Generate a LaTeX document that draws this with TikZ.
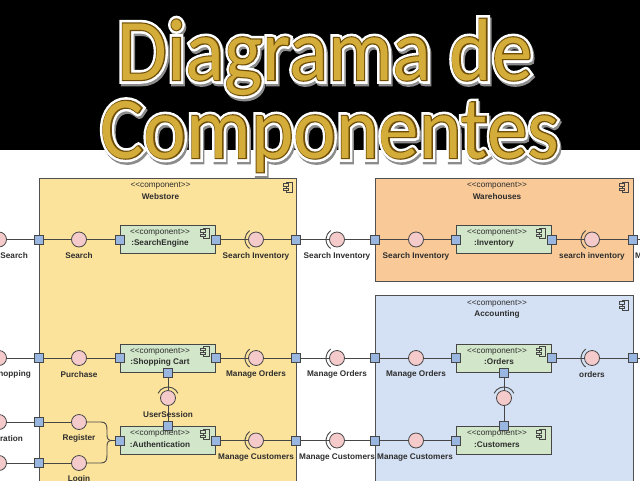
\documentclass[tikz,border=0pt]{standalone}
\usepackage{fontspec}
\setmainfont{Liberation Sans}
\newfontfamily\tfG{Carlito}
\newfontfamily\tfD{Carlito}[FakeBold=2.6]
\newfontfamily\tfW{Carlito}[FakeBold=8.5]
\definecolor{wirec}{RGB}{70,70,70}
\definecolor{boxc}{RGB}{80,80,80}
\definecolor{webc}{RGB}{252,227,156}
\definecolor{warec}{RGB}{249,202,152}
\definecolor{accc}{RGB}{212,224,243}
\definecolor{compc}{RGB}{210,231,202}
\definecolor{ballc}{RGB}{244,202,202}
\definecolor{portc}{RGB}{152,182,224}
\definecolor{txtc}{RGB}{45,45,45}
\definecolor{goldc}{RGB}{212,172,58}
\definecolor{golddk}{RGB}{110,78,8}
\newcommand\stc{<\kern0pt<component>\kern0pt>}
\newcommand\ttltext[2]{\scalebox{0.92}[1]{#1\fontsize{88}{88}\selectfont #2}}
\newcommand\lsock[1]{\draw[sock] ([shift={(125:11)}]#1.center) arc[start angle=125,end angle=235,radius=11];}
\newcommand\tsock[1]{\draw[sock] ([shift={(205:11)}]#1.center) arc[start angle=205,end angle=335,radius=11];}
\begin{document}
\begin{tikzpicture}[x=1pt,y=-1pt,
  wire/.style={draw=wirec,line width=0.9pt},
  sock/.style={draw=wirec,line width=0.9pt},
  port/.style={rectangle,draw=wirec,fill=portc,minimum size=9pt,inner sep=0,line width=0.7pt},
  ball/.style={circle,draw=wirec,fill=ballc,minimum size=15pt,inner sep=0,line width=0.8pt},
  comp/.style={rectangle,draw=wirec,fill=compc,minimum width=95pt,minimum height=28pt,inner sep=0,line width=1pt},
  outer/.style={rectangle,draw=boxc,inner sep=0,line width=0.9pt},
  lbl/.style={font=\fontsize{8.2}{9}\selectfont\bfseries,text=txtc,inner sep=0},
  stereo/.style={font=\fontsize{8.2}{9}\selectfont,text=txtc,inner sep=0},
  ttl/.style={anchor=base,inner sep=0},
  pics/cicon/.style={code={
    \draw[draw=wirec,fill=#1,line width=0.7pt] (-2,-5) rectangle (4,5);
    \draw[draw=wirec,fill=#1,line width=0.7pt] (-4.5,-3.2) rectangle (0,-1);
    \draw[draw=wirec,fill=#1,line width=0.7pt] (-4.5,1) rectangle (0,3.2);
  }}]
\useasboundingbox (0,0) rectangle (640,480);
\clip (0,0) rectangle (640,480);
\fill[black] (0,0) rectangle (640,150);

% outer components
\node[outer,fill=webc,minimum width=257pt,minimum height=320pt] (web) at (167.5,338) {};
\node[outer,fill=warec,minimum width=258pt,minimum height=103pt] (ware) at (504,229.5) {};
\node[outer,fill=accc,minimum width=258pt,minimum height=205pt] (acc) at (504,397.5) {};
\node[stereo] (web-s) at (160.5,186) {\stc};
\node[lbl] (web-n) at (160.5,196.5) {Webstore};
\node[stereo] (ware-s) at (497,186) {\stc};
\node[lbl] (ware-n) at (497,196.5) {Warehouses};
\node[stereo] (acc-s) at (497,303.5) {\stc};
\node[lbl] (acc-n) at (497,314) {Accounting};
\pic at (288,187) {cicon=webc};
\pic at (624,187) {cicon=warec};
\pic at (624,305) {cicon=accc};

% inner components
\node[comp] (se) at (168,239.5) {};
\node[comp] (sc) at (168,358) {};
\node[comp] (au) at (168,440.5) {};
\node[comp] (inv) at (504,239.5) {};
\node[comp] (ord) at (504,358) {};
\node[comp] (cus) at (504,440.5) {};
\node[stereo] (se-s) at (160,233) {\stc};
\node[lbl] (se-n) at (160,243.5) {:SearchEngine};
\node[stereo] (sc-s) at (160,351.5) {\stc};
\node[lbl] (sc-n) at (160,362) {:Shopping Cart};
\node[stereo] (au-s) at (160,434) {\stc};
\node[lbl] (au-n) at (160,444.5) {:Authentication};
\node[stereo] (inv-s) at (497,233) {\stc};
\node[lbl] (inv-n) at (494,243.5) {:Inventory};
\node[stereo] (ord-s) at (497,351.5) {\stc};
\node[lbl] (ord-n) at (499,362) {:Orders};
\node[stereo] (cus-s) at (497,434) {\stc};
\node[lbl] (cus-n) at (497,444.5) {:Customers};
\foreach \c/\y in {205/233,205/351.5,205/434} \pic at (\c,\y) {cicon=compc};
\foreach \c/\y in {541/233,541/351.5,541/434} \pic at (\c,\y) {cicon=compc};

% row A
\node[ball] (oA) at (-1,239.5) {};
\node[port] (pA1) at (39,239.5) {};
\node[ball] (bA1) at (79,239.5) {};
\node[port] (pA2) at (se.west) {};
\node[port] (pA3) at (se.east) {};
\node[ball] (bA2) at (256,239.5) {};
\node[port] (pA4) at (296,239.5) {};
\node[ball] (bA3) at (337,239.5) {};
\node[port] (pA5) at (375,239.5) {};
\node[ball] (bA4) at (416,239.5) {};
\node[port] (pA6) at (inv.west) {};
\node[port] (pA7) at (inv.east) {};
\node[ball] (bA5) at (592,239.5) {};
\node[port] (pA8) at (633,239.5) {};
\coordinate (eA) at (660,239.5);
% row B
\node[ball] (oB) at (-1,358) {};
\node[port] (pB1) at (39,358) {};
\node[ball] (bB1) at (79,358) {};
\node[port] (pB2) at (sc.west) {};
\node[port] (pB3) at (sc.east) {};
\node[ball] (bB2) at (256,358) {};
\node[port] (pB4) at (296,358) {};
\node[ball] (bB3) at (337,358) {};
\node[port] (pB5) at (375,358) {};
\node[ball] (bB4) at (416,358) {};
\node[port] (pB6) at (ord.west) {};
\node[port] (pB7) at (ord.east) {};
\node[ball] (bB5) at (592,358) {};
\node[port] (pB8) at (633,358) {};
\coordinate (eB) at (660,358);
% row C
\node[ball] (oC1) at (-1,422) {};
\node[ball] (oC2) at (-1,463) {};
\node[port] (pC1) at (39,422) {};
\node[port] (pC2) at (39,463) {};
\node[ball] (bC1) at (79,422) {};
\node[ball] (bC2) at (79,463) {};
\node[port] (pC3) at (au.west) {};
\node[port] (pC4) at (au.east) {};
\node[ball] (bC3) at (256,440.5) {};
\node[port] (pC5) at (296,440.5) {};
\node[ball] (bC4) at (337,440.5) {};
\node[port] (pC6) at (375,440.5) {};
\node[ball] (bC5) at (416,440.5) {};
\node[port] (pC7) at (cus.west) {};
% vertical
\node[port] (pV1) at (sc.south) {};
\node[ball] (bV1) at (168,398) {};
\node[port] (pV2) at (au.north) {};
\node[port] (pV3) at (ord.south) {};
\node[ball] (bV2) at (504,398) {};
\node[port] (pV4) at (cus.north) {};

% wires
\foreach \u/\v in {oA/pA1,pA1/bA1,bA1/pA2,pA3/bA2,bA2/pA4,pA4/bA3,bA3/pA5,pA5/bA4,bA4/pA6,pA7/bA5,bA5/pA8,pA8/eA,
  oB/pB1,pB1/bB1,bB1/pB2,pB3/bB2,bB2/pB4,pB4/bB3,bB3/pB5,pB5/bB4,bB4/pB6,pB7/bB5,bB5/pB8,pB8/eB,
  oC1/pC1,oC2/pC2,pC1/bC1,pC2/bC2,pC4/bC3,bC3/pC5,pC5/bC4,bC4/pC6,pC6/bC5,bC5/pC7,
  pV1/bV1,bV1/pV2,pV3/bV2,bV2/pV4}
  \draw[wire] (\u) -- (\v);
\draw[wire] (bC1) -- (101,422) .. controls (106,422) and (107,425) .. (107,430) -- (107,435) .. controls (107,439) and (108.5,440.5) .. (112,440.5) -- (pC3);
\draw[wire] (bC2) -- (101,463) .. controls (106,463) and (107,460) .. (107,455) -- (107,446) .. controls (107,442) and (108.5,440.5) .. (112,440.5);

% sockets
\lsock{bA2}\lsock{bA3}\lsock{bA5}
\lsock{bB2}\lsock{bB3}\lsock{bB5}
\lsock{bC3}\lsock{bC4}
\tsock{bV1}\tsock{bV2}

% labels
\node[lbl,anchor=east] (lA0) at (28,256) {Search};
\node[lbl] (lA1) at (79,256) {Search};
\node[lbl] (lA2) at (256,256) {Search Inventory};
\node[lbl] (lA3) at (337,256) {Search Inventory};
\node[lbl] (lA4) at (416,256) {Search Inventory};
\node[lbl] (lA5) at (592,256) {search inventory};
\node[lbl,anchor=west] (lA6) at (635,256) {M};
\node[lbl,anchor=east] (lB0) at (31,374.5) {hopping};
\node[lbl] (lB1) at (79,374.5) {Purchase};
\node[lbl] (lB2) at (256,374.5) {Manage Orders};
\node[lbl] (lB3) at (337,374.5) {Manage Orders};
\node[lbl] (lB4) at (416,374.5) {Manage Orders};
\node[lbl] (lB5) at (592,374.5) {orders};
\node[lbl,anchor=east] (lC0) at (23,438.5) {ration};
\node[lbl] (lC1) at (79,438.5) {Register};
\node[lbl] (lC2) at (79,479.5) {Login};
\node[lbl] (lC3) at (256,457.5) {Manage Customers};
\node[lbl] (lC4) at (337,457.5) {Manage Customers};
\node[lbl] (lC5) at (415,457.5) {Manage Customers};
\node[lbl] (lV1) at (168,415) {UserSession};

% title
\foreach \t/\x/\y/\n in {{Diagrama de}/325/80/tD,{Componentes}/330/158/tC}{
  \node[ttl,text=black!45] (\n-s) at (\x+1.5,\y+2.5) {\ttltext{\tfW}{\t}};
  \node[ttl,text=white] (\n-w) at (\x,\y) {\ttltext{\tfW}{\t}};
  \node[ttl,text=golddk] (\n-d) at (\x,\y) {\ttltext{\tfD}{\t}};
  \node[ttl,text=goldc] (\n) at (\x,\y) {\ttltext{\tfG}{\t}};
}
\end{tikzpicture}
\end{document}
